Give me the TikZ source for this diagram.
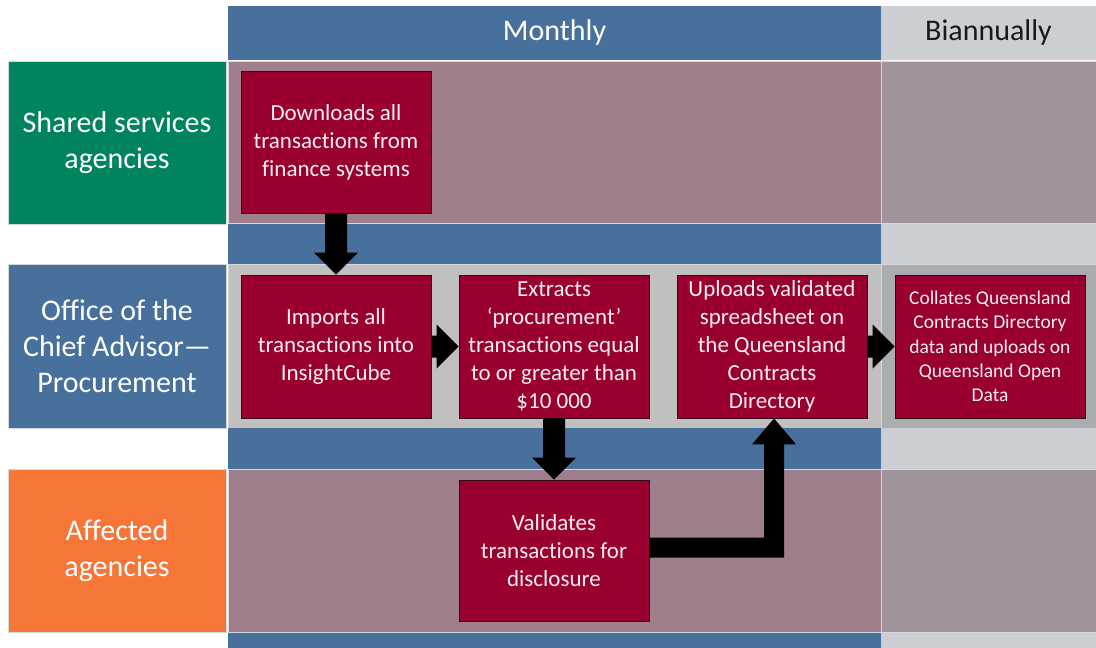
\documentclass[tikz,border=0pt]{standalone}
\usepackage{fontspec}
\setmainfont{Carlito}[Ligatures={NoCommon}]
\usetikzlibrary{calc}

\definecolor{hdrblue}{RGB}{71,112,156}
\definecolor{lanegreen}{RGB}{0,132,96}
\definecolor{laneorange}{RGB}{246,118,56}
\definecolor{rowmauve}{RGB}{160,127,140}
\definecolor{rowgrey}{RGB}{160,147,155}
\definecolor{lightgrey}{RGB}{203,207,210}
\definecolor{midgrey}{RGB}{192,192,192}
\definecolor{darkgrey}{RGB}{169,173,176}
\definecolor{boxred}{RGB}{153,0,48}
\definecolor{boxedge}{RGB}{50,10,20}
\definecolor{laneline}{RGB}{214,216,219}
\definecolor{boxtext}{RGB}{250,238,242}

\begin{document}
\begin{tikzpicture}[x=1pt,y=-1pt,
  region/.style={anchor=north west,inner sep=0pt,outer sep=0pt,draw=laneline,line width=0.7pt},
  lanelabel/.style={region,text=white,align=center,minimum width=218,minimum height=163,
    font=\fontsize{30}{36}\selectfont},
  header/.style={region,draw=none,font=\fontsize{30}{36}\selectfont},
  procbox/.style={fill=boxred,draw=boxedge,line width=0.8pt,text=boxtext,align=center,
    minimum width=190,minimum height=142,inner sep=0pt,font=\fontsize{23}{28}\selectfont},
  blk/.style={fill=black}]
\useasboundingbox (0,0) rectangle (1096,648);
\fill[white] (0,0) rectangle (1096,648);

% column headers
\node[header,fill=hdrblue,text=white,minimum width=653,minimum height=54] (monthly) at (228,6) {Monthly};
\node[header,fill=lightgrey,text=black!90,minimum width=215,minimum height=54] (biannual) at (881,6) {Biannually};

% monthly column: rows and separating bands
\node[region,fill=rowmauve,minimum width=653,minimum height=162] (m1) at (228,61) {};
\node[region,draw=none,fill=hdrblue,minimum width=653,minimum height=40] (mb1) at (228,224) {};
\node[region,fill=midgrey,minimum width=653,minimum height=164] (m2) at (228,264) {};
\node[region,draw=none,fill=hdrblue,minimum width=653,minimum height=41] (mb2) at (228,428) {};
\node[region,fill=rowmauve,minimum width=653,minimum height=163] (m3) at (228,469) {};
\node[region,draw=none,fill=hdrblue,minimum width=653,minimum height=16] (mb3) at (228,633) {};

% biannual column: rows and separating bands
\node[region,fill=rowgrey,minimum width=215,minimum height=162] (q1) at (881,61) {};
\node[region,draw=none,fill=lightgrey,minimum width=215,minimum height=40] (qb1) at (881,224) {};
\node[region,fill=darkgrey,minimum width=215,minimum height=164] (q2) at (881,264) {};
\node[region,draw=none,fill=lightgrey,minimum width=215,minimum height=41] (qb2) at (881,428) {};
\node[region,fill=rowgrey,minimum width=215,minimum height=163] (q3) at (881,469) {};
\node[region,draw=none,fill=lightgrey,minimum width=215,minimum height=16] (qb3) at (881,633) {};

% lane labels
\node[lanelabel,fill=lanegreen] (shared) at (8,61) {Shared services\\agencies};
\node[lanelabel,fill=hdrblue,minimum height=164] (office) at (8,264) {Office of the\\Chief Advisor—\\Procurement};
\node[lanelabel,fill=laneorange] (affected) at (8,469) {Affected\\agencies};

% process steps
\node[procbox] (b1) at (336,142) {Downloads all\\transactions from\\finance systems};
\node[procbox,minimum height=143] (b2) at (336,346.5) {Imports all\\transactions into\\InsightCube};
\node[procbox,minimum height=143] (b3) at (554,346.5) {Extracts\\‘procurement’\\transactions equal\\to or greater than\\\$10 000};
\node[procbox,minimum height=143] (b4) at (772,346.5) {Uploads validated\\spreadsheet on\\the Queensland\\Contracts\\Directory};
\node[procbox,minimum height=143,font=\fontsize{19.5}{24.3}\selectfont] (b5) at (990,346.5)
  {Collates Queensland\\Contracts Directory\\data and uploads on\\Queensland Open\\Data};
\node[procbox,minimum height=141] (b6) at (554,550.5) {Validates\\transactions for\\disclosure};

% block arrows
\fill[blk] ($(b1.south)+(-11,0)$) -- ($(b1.south)+(11,0)$) -- ($(b2.north)+(11,-22)$)
  -- ($(b2.north)+(22,-22)$) -- (b2.north) -- ($(b2.north)+(-22,-22)$)
  -- ($(b2.north)+(-11,-22)$) -- cycle;
\fill[blk] ($(b3.south)+(-11,0)$) -- ($(b3.south)+(11,0)$) -- ($(b6.north)+(11,-22)$)
  -- ($(b6.north)+(22,-22)$) -- (b6.north) -- ($(b6.north)+(-22,-22)$)
  -- ($(b6.north)+(-11,-22)$) -- cycle;
\fill[blk] ($(b2.east)+(0,-11)$) -- ($(b3.west)+(-22,-11)$) -- ($(b3.west)+(-22,-22)$)
  -- (b3.west) -- ($(b3.west)+(-22,22)$) -- ($(b3.west)+(-22,11)$)
  -- ($(b2.east)+(0,11)$) -- cycle;
\fill[blk] ($(b4.east)+(0,-11)$) -- ($(b5.west)+(-22,-11)$) -- ($(b5.west)+(-22,-22)$)
  -- (b5.west) -- ($(b5.west)+(-22,22)$) -- ($(b5.west)+(-22,11)$)
  -- ($(b4.east)+(0,11)$) -- cycle;

% elbow arrow from validation back up to the upload step
\coordinate (vout) at ($(b6.east)+(0,-3)$);
\coordinate (uin) at ($(b4.south)+(2,0)$);
\coordinate (elbow) at (uin |- vout);
\fill[blk] ($(vout)+(0,-10)$) -- ($(elbow)+(-10,-10)$) -- ($(uin)+(-10,26)$)
  -- ($(uin)+(-22,26)$) -- (uin) -- ($(uin)+(22,26)$) -- ($(uin)+(10,26)$)
  -- ($(elbow)+(10,10)$) -- ($(vout)+(0,10)$) -- cycle;
\end{tikzpicture}
\end{document}
